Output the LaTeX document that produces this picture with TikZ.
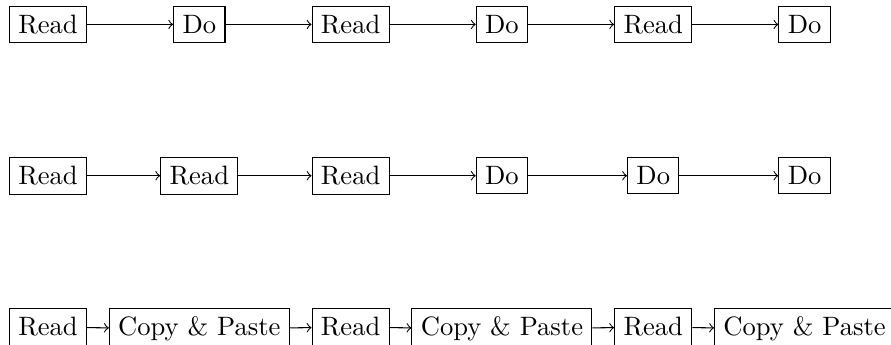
\documentclass[tikz,border=0pt]{standalone}
\usepackage{tikz}
\usetikzlibrary{positioning}

\begin{document}
\begin{tikzpicture}[
        >=to,
        node distance=2cm,
        on grid,
        % Cajas simples con el texto por defecto
        block/.style={draw, rectangle},
        link/.style={->}
    ]
        % Marco fijo del dibujo (recorta la última caja)
        \useasboundingbox (-0.635,0.323) rectangle (11.143,-4.237);
        \clip (-0.635,0.323) rectangle (11.143,-4.237);

        % Fila 1: Read y Do alternados
        \node[block] (read1) {Read};
        \node[block, right=of read1] (do1) {Do};
        \node[block, right=of do1] (read2) {Read};
        \node[block, right=of read2] (do2) {Do};
        \node[block, right=of do2] (read3) {Read};
        \node[block, right=of read3] (do3) {Do};

        \draw[link] (read1) -- (do1);
        \draw[link] (do1) -- (read2);
        \draw[link] (read2) -- (do2);
        \draw[link] (do2) -- (read3);
        \draw[link] (read3) -- (do3);

        % Fila 2: primero todas las lecturas
        \node[block, below=of read1] (readA) {Read};
        \node[block, right=of readA] (readB) {Read};
        \node[block, right=of readB] (readC) {Read};
        \node[block, right=of readC] (doA) {Do};
        \node[block, right=of doA] (doB) {Do};
        \node[block, right=of doB] (doC) {Do};

        \draw[link] (readA) -- (readB);
        \draw[link] (readB) -- (readC);
        \draw[link] (readC) -- (doA);
        \draw[link] (doA) -- (doB);
        \draw[link] (doB) -- (doC);

        % Fila 3: copiar y pegar, alineado por la línea base
        \node[block, below=of readA] (readX) {Read};
        \node[block, anchor=base] (copyX) at ([xshift=2cm]readX.base) {Copy \& Paste};
        \node[block, anchor=base] (readY) at ([xshift=2cm]copyX.base) {Read};
        \node[block, anchor=base] (copyY) at ([xshift=2cm]readY.base) {Copy \& Paste};
        \node[block, anchor=base] (readZ) at ([xshift=2cm]copyY.base) {Read};
        \node[block, anchor=base] (copyZ) at ([xshift=2cm]readZ.base) {Copy \& Paste};

        \draw[link] (readX) -- (copyX);
        \draw[link] (copyX) -- (readY);
        \draw[link] (readY) -- (copyY);
        \draw[link] (copyY) -- (readZ);
        \draw[link] (readZ) -- (copyZ);

    \end{tikzpicture}
\end{document}
